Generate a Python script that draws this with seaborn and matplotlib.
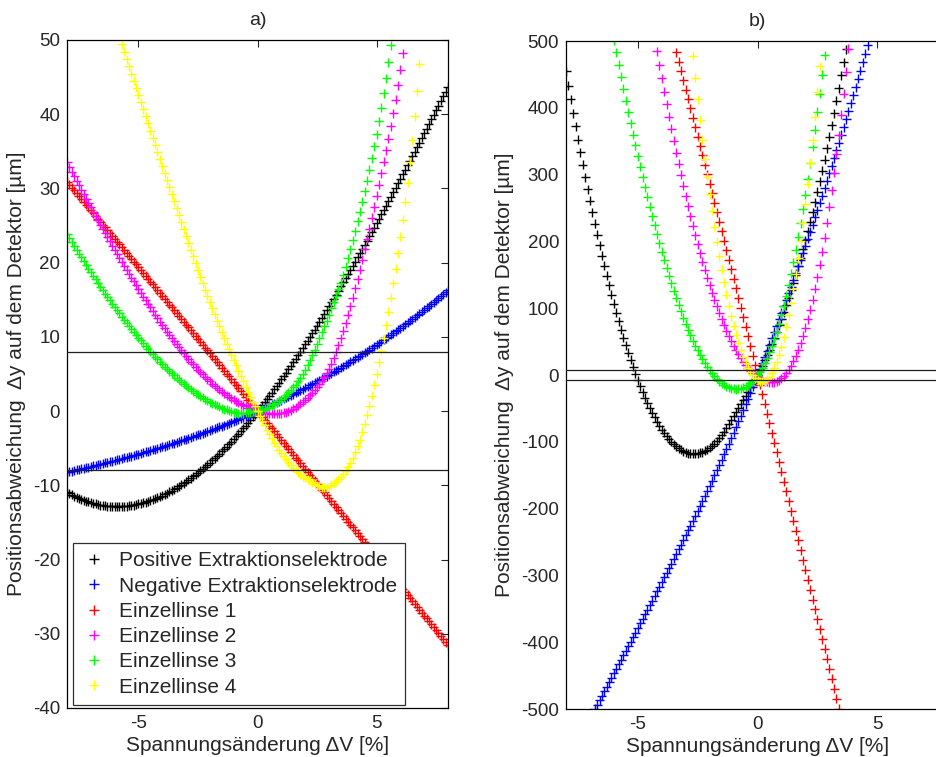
import numpy as np
import pandas as pd
import matplotlib
matplotlib.use("Agg")
import matplotlib.pyplot as plt
from matplotlib.lines import Line2D
import seaborn as sns

SERIES = ["Positive Extraktionselektrode", "Negative Extraktionselektrode",
          "Einzellinse 1", "Einzellinse 2", "Einzellinse 3", "Einzellinse 4"]
COLORS = ["#000000", "#0000ff", "#ff0000", "#ff00ff", "#00ff00", "#ffff00"]

STEP = 0.1  # sampling step of the voltage change in %
# first sampled x (ΔV in %) of each series
A_START = [-8.0, -8.0, -8.0, -8.0, -8.0, -5.7]
B_START = [-8.0, -6.8, -3.4, -4.2, -6.0, -2.7]

# ---------------- panel a) values (µm) ----------------
a_pos = [-10.91, -11.10, -11.27, -11.44, -11.60, -11.74, -11.88, -12.01, -12.13, -12.24,
         -12.34, -12.43, -12.51, -12.59, -12.65, -12.71, -12.75, -12.79, -12.82, -12.84,
         -12.85, -12.86, -12.85, -12.84, -12.82, -12.79, -12.75, -12.70, -12.65, -12.58,
         -12.51, -12.43, -12.35, -12.25, -12.15, -12.04, -11.92, -11.80, -11.66, -11.52,
         -11.38, -11.22, -11.06, -10.89, -10.71, -10.53, -10.34, -10.14, -9.93, -9.72,
         -9.50, -9.27, -9.04, -8.80, -8.55, -8.30, -8.04, -7.78, -7.50, -7.23,
         -6.94, -6.65, -6.35, -6.05, -5.74, -5.42, -5.10, -4.77, -4.44, -4.10,
         -3.76, -3.40, -3.05, -2.69, -2.32, -1.95, -1.57, -1.18, -0.79, -0.40,
         0.0, 0.40, 0.81, 1.23, 1.65, 2.07, 2.50, 2.94, 3.38, 3.82,
         4.27, 4.72, 5.18, 5.64, 6.10, 6.57, 7.05, 7.53, 8.01, 8.50,
         8.99, 9.48, 9.98, 10.48, 10.99, 11.50, 12.02, 12.53, 13.05, 13.58,
         14.11, 14.64, 15.17, 15.71, 16.25, 16.80, 17.35, 17.90, 18.45, 19.01,
         19.57, 20.13, 20.70, 21.26, 21.84, 22.41, 22.98, 23.56, 24.14, 24.73,
         25.31, 25.90, 26.49, 27.08, 27.68, 28.27, 28.87, 29.47, 30.07, 30.68,
         31.28, 31.89, 32.50, 33.11, 33.72, 34.34, 34.95, 35.57, 36.19, 36.81,
         37.43, 38.05, 38.67, 39.29, 39.92, 40.54, 41.17, 41.80, 42.42, 43.05,
         43.68]
a_neg = [-8.23, -8.15, -8.08, -8.01, -7.93, -7.86, -7.78, -7.70, -7.63, -7.55,
         -7.47, -7.39, -7.31, -7.23, -7.15, -7.07, -6.99, -6.91, -6.83, -6.74,
         -6.66, -6.57, -6.49, -6.40, -6.31, -6.23, -6.14, -6.05, -5.96, -5.87,
         -5.78, -5.68, -5.59, -5.50, -5.40, -5.31, -5.21, -5.11, -5.01, -4.91,
         -4.81, -4.71, -4.61, -4.51, -4.41, -4.30, -4.20, -4.09, -3.98, -3.88,
         -3.77, -3.66, -3.55, -3.43, -3.32, -3.21, -3.09, -2.98, -2.86, -2.74,
         -2.62, -2.50, -2.38, -2.26, -2.13, -2.01, -1.88, -1.76, -1.63, -1.50,
         -1.37, -1.24, -1.10, -0.97, -0.84, -0.70, -0.56, -0.42, -0.28, -0.14,
         0.0, 0.14, 0.29, 0.43, 0.58, 0.73, 0.88, 1.03, 1.19, 1.34,
         1.49, 1.65, 1.81, 1.97, 2.13, 2.29, 2.46, 2.62, 2.79, 2.96,
         3.12, 3.30, 3.47, 3.64, 3.82, 3.99, 4.17, 4.35, 4.53, 4.72,
         4.90, 5.09, 5.27, 5.46, 5.65, 5.85, 6.04, 6.23, 6.43, 6.63,
         6.83, 7.03, 7.24, 7.44, 7.65, 7.86, 8.07, 8.28, 8.49, 8.71,
         8.93, 9.14, 9.36, 9.59, 9.81, 10.04, 10.26, 10.49, 10.73, 10.96,
         11.19, 11.43, 11.67, 11.91, 12.15, 12.40, 12.64, 12.89, 13.14, 13.39,
         13.65, 13.90, 14.16, 14.42, 14.68, 14.94, 15.21, 15.48, 15.75, 16.02,
         16.29]
a_ez1 = [30.88, 30.50, 30.12, 29.73, 29.35, 28.97, 28.59, 28.20, 27.82, 27.44,
         27.06, 26.67, 26.29, 25.91, 25.52, 25.14, 24.76, 24.37, 23.99, 23.60,
         23.22, 22.84, 22.45, 22.07, 21.68, 21.30, 20.91, 20.53, 20.15, 19.76,
         19.38, 18.99, 18.60, 18.22, 17.83, 17.45, 17.06, 16.68, 16.29, 15.91,
         15.52, 15.13, 14.75, 14.36, 13.98, 13.59, 13.20, 12.82, 12.43, 12.04,
         11.66, 11.27, 10.88, 10.49, 10.11, 9.72, 9.33, 8.94, 8.56, 8.17,
         7.78, 7.39, 7.00, 6.62, 6.23, 5.84, 5.45, 5.06, 4.67, 4.28,
         3.90, 3.51, 3.12, 2.73, 2.34, 1.95, 1.56, 1.17, 0.78, 0.39,
         0.0, -0.39, -0.78, -1.17, -1.56, -1.95, -2.34, -2.73, -3.12, -3.51,
         -3.91, -4.30, -4.69, -5.08, -5.47, -5.86, -6.25, -6.64, -7.04, -7.43,
         -7.82, -8.21, -8.60, -9.00, -9.39, -9.78, -10.17, -10.57, -10.96, -11.35,
         -11.75, -12.14, -12.53, -12.92, -13.32, -13.71, -14.11, -14.50, -14.89, -15.29,
         -15.68, -16.07, -16.47, -16.86, -17.26, -17.65, -18.05, -18.44, -18.84, -19.23,
         -19.63, -20.02, -20.42, -20.81, -21.21, -21.60, -22.00, -22.39, -22.79, -23.18,
         -23.58, -23.98, -24.37, -24.77, -25.17, -25.56, -25.96, -26.35, -26.75, -27.15,
         -27.55, -27.94, -28.34, -28.74, -29.13, -29.53, -29.93, -30.33, -30.72, -31.12,
         -31.52]
a_ez2 = [33.5, 32.88, 32.27, 31.65, 31.04, 30.44, 29.83, 29.23, 28.64, 28.04,
         27.45, 26.86, 26.28, 25.70, 25.12, 24.55, 23.98, 23.42, 22.86, 22.30,
         21.75, 21.20, 20.66, 20.12, 19.58, 19.05, 18.52, 18.00, 17.48, 16.96,
         16.45, 15.94, 15.44, 14.94, 14.45, 13.96, 13.48, 13.00, 12.53, 12.06,
         11.60, 11.14, 10.70, 10.26, 9.82, 9.40, 8.98, 8.58, 8.18, 7.78,
         7.40, 7.02, 6.66, 6.30, 5.94, 5.60, 5.26, 4.94, 4.62, 4.30,
         4.00, 3.71, 3.42, 3.15, 2.88, 2.63, 2.38, 2.15, 1.92, 1.71,
         1.50, 1.31, 1.12, 0.95, 0.78, 0.63, 0.48, 0.35, 0.22, 0.11,
         0.0, -0.09, -0.17, -0.23, -0.28, -0.31, -0.33, -0.34, -0.34, -0.32,
         -0.28, -0.22, -0.14, -0.03, 0.12, 0.30, 0.50, 0.73, 0.97, 1.23,
         1.50, 1.80, 2.13, 2.47, 2.83, 3.22, 3.63, 4.07, 4.55, 5.08,
         5.68, 6.36, 7.14, 8.02, 8.90, 9.80, 10.80, 11.85, 12.95, 14.10,
         15.30, 16.52, 17.77, 19.07, 20.42, 21.80, 23.20, 24.60, 26.03, 27.50,
         29.00, 30.50, 32.03, 33.57, 35.13, 36.70, 38.35, 40.10, 41.95, 43.90,
         46.00, 48.20]
a_ez3 = [23.8, 23.28, 22.76, 22.24, 21.72, 21.2, 20.7, 20.2, 19.7, 19.2,
         18.7, 18.22, 17.74, 17.26, 16.78, 16.3, 15.84, 15.38, 14.92, 14.46,
         14.0, 13.58, 13.16, 12.74, 12.32, 11.9, 11.5, 11.1, 10.7, 10.3,
         9.9, 9.52, 9.14, 8.76, 8.38, 8.0, 7.66, 7.32, 6.98, 6.64,
         6.3, 6.0, 5.7, 5.4, 5.1, 4.8, 4.52, 4.24, 3.96, 3.68,
         3.4, 3.16, 2.92, 2.68, 2.44, 2.2, 2.0, 1.8, 1.6, 1.4,
         1.2, 1.04, 0.88, 0.72, 0.56, 0.4, 0.28, 0.16, 0.05, -0.06,
         -0.16, -0.23, -0.28, -0.3, -0.29, -0.25, -0.2, -0.13, -0.07, -0.03,
         0.0, 0.09, 0.19, 0.31, 0.45, 0.6, 0.77, 0.95, 1.15, 1.37,
         1.6, 1.88, 2.19, 2.51, 2.85, 3.2, 3.58, 3.99, 4.44, 4.95,
         5.5, 6.15, 6.85, 7.56, 8.28, 9.0, 9.8, 10.6, 11.4, 12.2,
         13.0, 13.83, 14.67, 15.53, 16.4, 17.3, 18.33, 19.44, 20.58, 21.78,
         23.0, 24.25, 25.55, 26.86, 28.22, 29.6, 31.05, 32.55, 34.08, 35.68,
         37.3, 39.03, 40.85, 42.8, 44.85, 47.0, 49.3]
a_ez4 = [49.4, 48.4, 47.4, 46.44, 45.48, 44.52, 43.56, 42.6, 41.64, 40.68,
         39.72, 38.76, 37.8, 36.84, 35.88, 34.92, 33.96, 33.0, 32.04, 31.08,
         30.14, 29.22, 28.3, 27.34, 26.38, 25.44, 24.52, 23.6, 22.68, 21.76,
         20.84, 19.92, 19.0, 18.12, 17.24, 16.38, 15.54, 14.7, 13.86, 13.02,
         12.2, 11.4, 10.6, 9.84, 9.08, 8.34, 7.62, 6.9, 6.18, 5.46,
         4.74, 4.02, 3.3, 2.62, 1.94, 1.28, 0.64, 0.0, -0.65, -1.29,
         -1.91, -2.51, -3.1, -3.67, -4.23, -4.75, -5.24, -5.7, -6.11, -6.51,
         -6.89, -7.25, -7.6, -7.91, -8.21, -8.49, -8.76, -9.0, -9.21, -9.41,
         -9.6, -9.8, -9.98, -10.14, -10.26, -10.3, -10.25, -10.1, -9.92, -9.7,
         -9.47, -9.2, -8.9, -8.5, -8.05, -7.54, -6.95, -6.3, -5.52, -4.7,
         -3.85, -2.8, -1.7, -0.5, 0.75, 2.1, 3.55, 5.0, 6.55, 8.15,
         9.85, 11.6, 13.4, 15.3, 17.2, 19.2, 21.3, 23.5, 25.8, 28.2,
         30.8, 33.6, 36.5, 39.7, 43.1, 46.8]

# ---------------- panel b) values (µm) ----------------
b_pos = [454.5, 433.3, 412.5, 392.1, 372.1, 352.5, 333.3, 314.5, 296.1, 278.1,
         260.5, 243.3, 226.5, 210.1, 194.1, 178.5, 163.3, 148.5, 134.1, 120.1,
         106.5, 93.3, 80.5, 68.1, 56.1, 44.5, 33.3, 22.5, 12.1, 2.1,
         -7.6, -16.8, -25.6, -34.0, -42.0, -49.6, -56.8, -63.6, -70.0, -76.0,
         -81.6, -86.8, -91.6, -96.0, -100.0, -103.6, -106.8, -109.6, -112.0, -114.0,
         -115.6, -116.8, -117.6, -118.0, -117.9, -117.5, -116.7, -115.4, -113.7, -111.6,
         -109.1, -106.2, -102.8, -99.0, -94.8, -90.2, -85.2, -79.7, -73.8, -67.7,
         -61.6, -55.5, -49.4, -43.3, -37.2, -31.0, -24.8, -18.6, -12.4, -6.2,
         0.0, 7.0, 14.2, 21.8, 29.8, 38.0, 46.6, 55.5, 64.7, 74.2,
         84.0, 94.2, 104.7, 115.6, 126.8, 138.4, 150.3, 162.6, 175.2, 188.2,
         201.5, 215.2, 229.3, 243.8, 258.7, 274.0, 289.7, 305.8, 322.3, 339.2,
         356.5, 374.2, 392.2, 410.6, 429.4, 448.5, 467.9, 487.7]
b_neg = [-500.0, -493.4, -486.7, -479.9, -473.2, -466.5, -459.8, -453.1, -446.4, -439.6,
         -432.9, -426.2, -419.4, -412.7, -405.9, -399.1, -392.3, -385.6, -378.8, -371.9,
         -365.1, -358.3, -351.4, -344.6, -337.7, -330.8, -323.9, -317.0, -310.1, -303.1,
         -296.2, -289.2, -282.2, -275.2, -268.2, -261.1, -254.1, -247.0, -239.9, -232.7,
         -225.5, -218.3, -210.9, -203.6, -196.2, -188.7, -181.2, -173.6, -165.9, -158.2,
         -150.4, -142.6, -134.7, -126.8, -118.8, -110.7, -102.6, -94.4, -86.1, -77.8,
         -69.4, -61.0, -52.5, -43.9, -35.3, -26.5, -17.8, -8.9, 0.0, 9.0,
         18.0, 27.2, 36.4, 45.6, 55.0, 64.4, 73.9, 83.4, 93.0, 102.7,
         112.5, 122.4, 132.3, 142.3, 152.4, 162.6, 172.8, 183.1, 193.5, 204.0,
         214.6, 225.2, 235.9, 246.7, 257.6, 268.6, 279.6, 290.7, 302.0, 313.3,
         324.6, 336.1, 347.7, 359.3, 371.1, 382.9, 394.8, 406.8, 418.9, 431.1,
         443.4, 455.7, 468.2, 480.7, 493.4]
b_ez1 = [483.2, 469.2, 455.2, 441.2, 427.2, 413.2, 399.1, 385.1, 371.0, 356.9,
         342.8, 328.6, 314.5, 300.4, 286.2, 272.0, 257.8, 243.6, 229.4, 215.2,
         200.9, 186.7, 172.4, 158.1, 143.8, 129.5, 115.2, 100.8, 86.5, 72.1,
         57.7, 43.3, 28.9, 14.4, 0.0, -14.5, -28.9, -43.4, -57.9, -72.4,
         -86.9, -101.5, -116.0, -130.6, -145.2, -159.8, -174.4, -189.0, -203.7, -218.3,
         -233.0, -247.7, -262.4, -277.1, -291.8, -306.5, -321.3, -336.1, -350.8, -365.6,
         -380.4, -395.3, -410.1, -425.0, -439.8, -454.7, -469.6, -484.5, -499.4]
b_ez2 = [484.4, 463.9, 443.9, 424.4, 405.2, 386.5, 368.3, 350.4, 333.0, 316.0,
         299.5, 283.3, 267.6, 252.4, 237.5, 223.1, 209.2, 195.6, 182.5, 169.8,
         157.6, 145.7, 134.3, 123.4, 112.8, 102.7, 93.1, 83.8, 75.0, 66.6,
         58.7, 51.1, 44.0, 37.4, 31.1, 25.3, 20.0, 15.0, 10.5, 6.4,
         2.8, -0.5, -3.3, -5.6, -7.6, -9.1, -10.1, -10.8, -11.0, -10.6,
         -9.5, -7.7, -5.0, -1.5, 2.8, 8.0, 14.1, 21.1, 29.0, 37.9,
         47.8, 58.6, 70.5, 83.5, 97.5, 112.7, 129.0, 146.4, 165.0, 184.8,
         205.8, 228.1, 251.7, 276.5, 302.7, 330.2, 359.0, 389.3, 421.0, 454.1,
         488.7]
b_ez3 = [501.4, 482.8, 464.4, 446.2, 428.4, 410.8, 393.5, 376.6, 359.9, 343.6,
         327.4, 311.7, 296.4, 281.2, 266.5, 251.9, 237.8, 224.1, 210.5, 197.5,
         184.6, 172.3, 160.2, 148.4, 137.1, 126.0, 115.5, 105.3, 95.3, 85.8,
         76.6, 67.9, 59.6, 51.5, 44.0, 36.7, 30.0, 23.7, 17.7, 12.1,
         7.0, 2.3, -2.0, -5.9, -9.3, -12.3, -14.9, -17.0, -18.7, -19.9,
         -20.7, -21.0, -20.9, -20.3, -19.2, -17.5, -15.2, -12.4, -9.0, -4.8,
         0.0, 5.0, 10.8, 17.6, 25.2, 33.8, 43.2, 53.6, 64.8, 77.0,
         90.0, 104.0, 118.8, 134.6, 151.2, 168.8, 187.2, 206.6, 226.8, 248.0,
         270.0, 293.0, 316.8, 341.6, 367.2, 393.8, 421.2, 449.6, 478.8]
b_ez4 = [477.8, 444.7, 412.8, 382.1, 352.5, 324.1, 296.8, 270.7, 245.8, 222.0,
         199.4, 177.9, 157.6, 138.5, 120.5, 103.7, 88.0, 73.5, 60.2, 48.0,
         37.0, 27.1, 18.4, 10.9, 4.5, -0.7, -4.8, -7.7, -9.4, -10.0,
         -9.2, -6.7, -2.6, 3.1, 10.5, 19.5, 30.2, 42.5, 56.4, 72.0,
         89.2, 108.1, 128.6, 150.7, 174.5, 199.9, 227.0, 255.7, 286.0, 318.0,
         351.6, 386.9, 423.8, 462.3]

YTICKS_A = [-40, -30, -20, -10, 0, 10, 20, 30, 40, 50]
YTICKS_B = [-500, -400, -300, -200, -100, 0, 100, 200, 300, 400, 500]
XTICKS = [-5, 0, 5]
TOL = 8  # tolerance band (µm)


def long_frame(starts, cols):
    parts = []
    for name, x0, vals in zip(SERIES, starts, cols):
        x = np.round(x0 + STEP * np.arange(len(vals)), 2)
        parts.append(pd.DataFrame({"x": x, "y": np.asarray(vals, float), "Serie": name}))
    return pd.concat(parts, ignore_index=True)


dfa = long_frame(A_START, [a_pos, a_neg, a_ez1, a_ez2, a_ez3, a_ez4])
dfb = long_frame(B_START, [b_pos, b_neg, b_ez1, b_ez2, b_ez3, b_ez4])

sns.set_style("white")
plt.rcParams["font.family"] = ["Liberation Sans", "DejaVu Sans"]
plt.rcParams["axes.unicode_minus"] = False
plt.rcParams["axes.linewidth"] = 0.9

fig = plt.figure(figsize=(9.36, 7.57), dpi=100)
axA = fig.add_axes([67 / 936, 49 / 757, 381 / 936, 668 / 757])
axB = fig.add_axes([566 / 936, 48 / 757, 383 / 936, 668 / 757])

LBL = 15
for ax, df, lim, yt, title in [(axA, dfa, (-40, 50), YTICKS_A, "a)"),
                               (axB, dfb, (-500, 500), YTICKS_B, "b)")]:
    sns.scatterplot(data=df, x="x", y="y", hue="Serie", hue_order=SERIES,
                    palette=COLORS, marker="+", s=42, linewidth=1.0,
                    ax=ax, legend=False, zorder=2)
    ax.axhline(TOL, color="#202020", lw=0.9, zorder=3)
    ax.axhline(-TOL, color="#202020", lw=0.9, zorder=3)
    ax.set_xlim(-8, 8)
    ax.set_ylim(*lim)
    ax.set_xticks(XTICKS)
    ax.set_yticks(yt)
    ax.tick_params(direction="in", top=True, right=True, length=5,
                   width=0.8, labelsize=13.5, pad=5)
    for sp in ax.spines.values():
        sp.set_color("black")
    ax.set_xlabel("Spannungsänderung ΔV [%]", fontsize=LBL, labelpad=3)
    ax.set_ylabel("Positionsabweichung  Δy auf dem Detektor [µm]", fontsize=LBL,
                  labelpad=5)
    ax.set_title(title, fontsize=14, pad=11)

handles = [Line2D([], [], ls="", marker="+", ms=7, mew=1.0, color=c) for c in COLORS]
leg = axA.legend(handles, SERIES, loc="lower left",
                 bbox_to_anchor=(6 / 381, 3 / 668), borderaxespad=0,
                 fontsize=LBL, frameon=True, fancybox=False, framealpha=1,
                 edgecolor="#303030", labelspacing=0.3, handlelength=1.2,
                 handletextpad=0.6, borderpad=0.4)
leg.get_frame().set_linewidth(0.9)

fig.savefig("out.png", dpi=100)
